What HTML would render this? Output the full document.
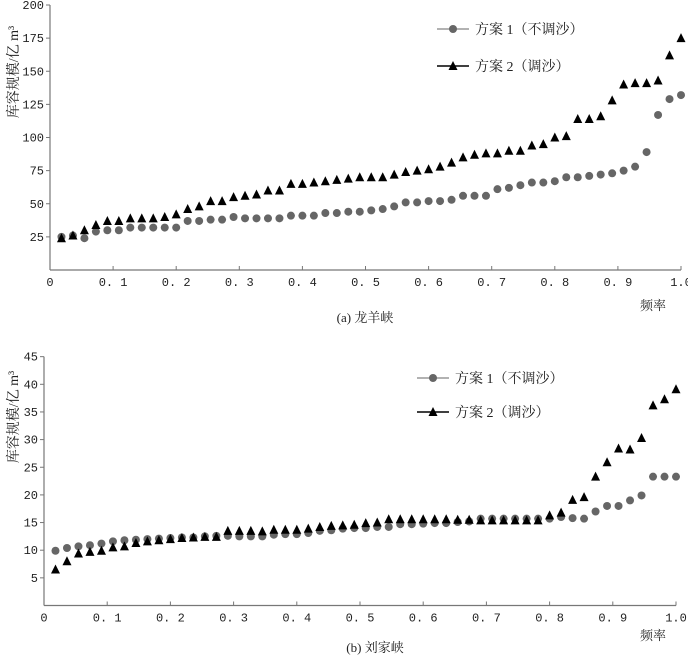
<!DOCTYPE html>
<html><head><meta charset="utf-8"><style>
html,body{margin:0;padding:0;background:#fff;}
svg text{font-family:"Liberation Serif","Noto Serif CJK SC","Noto Sans CJK SC",serif;fill:#222;}
svg text.t{font-family:"Liberation Mono","Noto Serif CJK SC",monospace;}
</style></head><body>
<svg id="s" width="688" height="655" xmlns="http://www.w3.org/2000/svg"></svg>
<script>
const s=document.getElementById('s');let h='';
function chart(o){
 const X=t=>o.x0+(o.x1-o.x0)*t, Y=v=>o.yb-v*o.k;
 h+=`<line x1="${o.x0}" y1="${Y(o.ymax)}" x2="${o.x0}" y2="${o.yb}" stroke="#777" stroke-width="1.2"/>`;
 h+=`<line x1="${o.x0}" y1="${o.yb}" x2="${o.x1}" y2="${o.yb}" stroke="#777" stroke-width="1.2"/>`;
 for(let v=o.ystep;v<=o.ymax;v+=o.ystep){h+=`<line x1="${o.x0-4}" y1="${Y(v)}" x2="${o.x0}" y2="${Y(v)}" stroke="#777"/><text class="t" x="${o.x0-6}" y="${Y(v)+4}" font-size="12" text-anchor="end">${v}</text>`;}
 for(let i=0;i<=10;i++){const t=i/10;const lab=i==0?'0':(i==10?'1.0':'0. '+i);
  if(i>0)h+=`<line x1="${X(t)}" y1="${o.yb-4}" x2="${X(t)}" y2="${o.yb}" stroke="#777"/>`;
  h+=`<text class="t" x="${X(t)}" y="${o.yb+16}" font-size="12" text-anchor="middle">${lab}</text>`;}
 const n=o.a.length;
 o.a.forEach((v,i)=>{h+=`<circle cx="${X((i+1)/n)}" cy="${Y(v)}" r="4" fill="#666"/>`;});
 o.b.forEach((v,i)=>{const x=X((i+1)/n),y=Y(v);h+=`<polygon points="${x-4.5},${y+4} ${x+4.5},${y+4} ${x},${y-5}" fill="#000"/>`;});
 const L=o.leg;
 h+=`<line x1="${L.x}" y1="${L.y1}" x2="${L.x+32}" y2="${L.y1}" stroke="#999" stroke-width="1.5"/><circle cx="${L.x+16}" cy="${L.y1}" r="4" fill="#666"/><text x="${L.x+38}" y="${L.y1+5}" font-size="14">方案 1（不调沙）</text>`;
 h+=`<line x1="${L.x}" y1="${L.y2}" x2="${L.x+32}" y2="${L.y2}" stroke="#000" stroke-width="1.5"/><polygon points="${L.x+11.5},${L.y2+4} ${L.x+20.5},${L.y2+4} ${L.x+16},${L.y2-5}" fill="#000"/><text x="${L.x+38}" y="${L.y2+5}" font-size="14">方案 2（调沙）</text>`;
 h+=`<text transform="translate(18,${o.ylabY}) rotate(-90)" font-size="14" text-anchor="middle">库容规模/亿 m³</text>`;
 h+=`<text x="${o.fx}" y="${o.fy}" font-size="13">频率</text>`;
 h+=`<text x="${o.cx}" y="${o.cy}" font-size="13" text-anchor="middle">${o.cap}</text>`;
}
chart({x0:50,x1:681,yb:270,k:1.325,ymax:200,ystep:25,
a:[25,26,24,29,30,30,32,32,32,32,32,37,37,38,38,40,39,39,39,39,41,41,41,43,43,44,44,45,46,48,51,51,52,52,53,56,56,56,61,62,64,66,66,67,70,70,71,72,73,75,78,89,117,129,132],
b:[24,26,30,34,37,37,39,39,39,40,42,46,48,52,52,55,56,57,60,60,65,65,66,67,68,69,70,70,70,72,74,75,76,78,81,85,87,88,88,90,90,94,95,100,101,114,114,116,128,140,141,141,143,162,175],
leg:{x:437,y1:29,y2:66},ylabY:72,fx:640,fy:310,cx:365,cy:322,cap:'(a) 龙羊峡'});
chart({x0:44,x1:676,yb:605.5,k:5.53,ymax:45,ystep:5,
a:[9.9,10.4,10.7,10.9,11.2,11.6,11.8,11.9,12.0,12.1,12.2,12.3,12.3,12.5,12.6,12.6,12.5,12.5,12.5,12.8,12.9,12.9,13.1,13.5,13.6,13.9,14.0,14.0,14.2,14.2,14.7,14.7,14.8,14.9,14.9,15.1,15.2,15.7,15.7,15.7,15.7,15.7,15.7,15.7,16.0,15.8,15.7,17.0,18.0,18.0,19.0,19.9,23.3,23.3,23.3],
b:[6.5,8,9.4,9.7,9.9,10.5,10.7,11.3,11.6,11.8,12.0,12.2,12.3,12.4,12.4,13.5,13.5,13.5,13.4,13.7,13.7,13.7,13.9,14.2,14.4,14.5,14.6,14.9,15.0,15.6,15.6,15.6,15.6,15.6,15.6,15.5,15.5,15.4,15.4,15.4,15.4,15.4,15.4,16.3,16.8,19.1,19.6,23.3,25.9,28.4,28.2,30.3,36.2,37.3,39.1],
leg:{x:417,y1:378,y2:412},ylabY:417,fx:640,fy:640,cx:375,cy:652,cap:'(b) 刘家峡'});
s.innerHTML=h;
</script>
</body></html>
